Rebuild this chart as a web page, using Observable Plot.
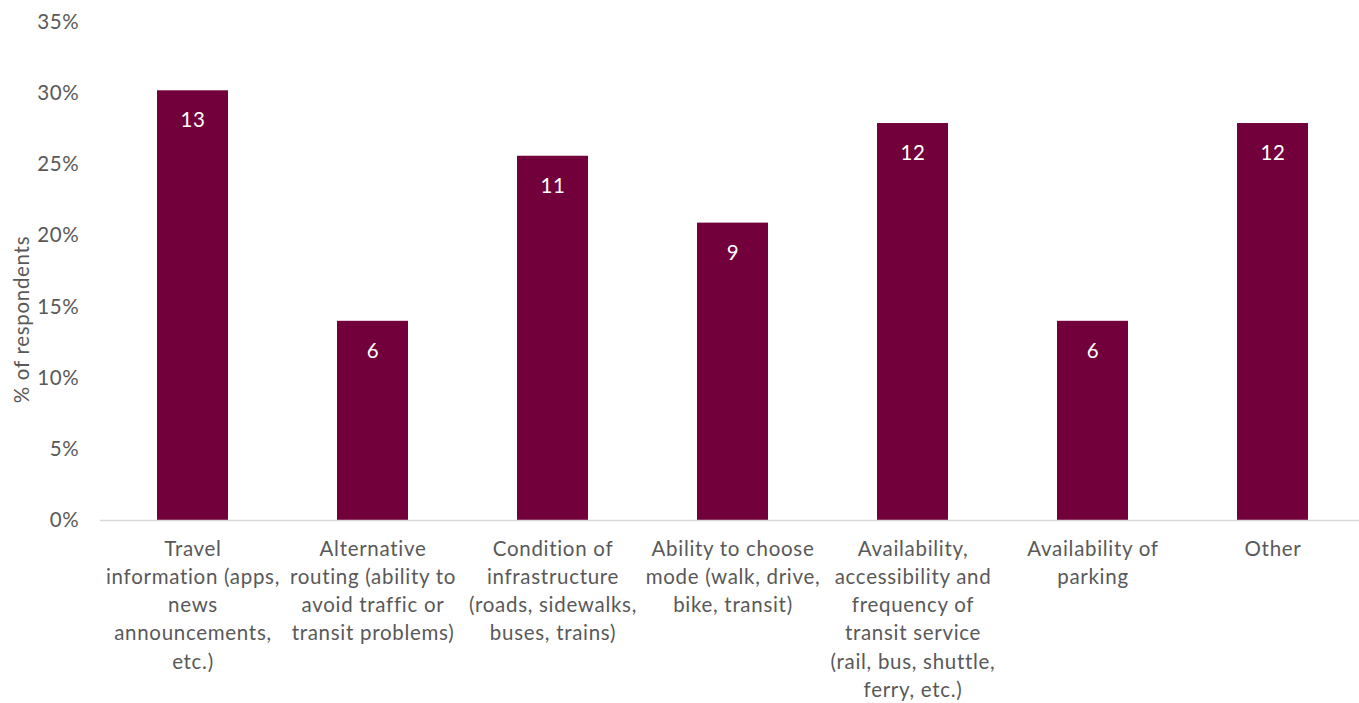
<!DOCTYPE html>
<html>
<head>
<meta charset="utf-8">
<script src="https://cdn.jsdelivr.net/npm/d3@7"></script>
<script src="https://cdn.jsdelivr.net/npm/@observablehq/plot@0.6"></script>
<style>
  html, body { margin: 0; padding: 0; background: #fff; overflow: hidden; }
  #chart { width: 1359px; overflow: hidden; }
  #chart svg { display: block; max-width: none; }
</style>
</head>
<body>
<div id="chart"></div>
<script>
const categories = [
  "Travel\ninformation (apps,\nnews\nannouncements,\netc.)",
  "Alternative\nrouting (ability to\navoid traffic or\ntransit problems)",
  "Condition of\ninfrastructure\n(roads, sidewalks,\nbuses, trains)",
  "Ability to choose\nmode (walk, drive,\nbike, transit)",
  "Availability,\naccessibility and\nfrequency of\ntransit service\n(rail, bus, shuttle,\nferry, etc.)",
  "Availability of\nparking",
  "Other"
];
const percentValues = [30.2, 14.0, 25.6, 20.9, 27.9, 14.0, 27.9];
const counts = [13, 6, 11, 9, 12, 6, 12];
const yTicks = [0, 5, 10, 15, 20, 25, 30, 35];

const data = categories.map((c, i) => ({category: c, value: percentValues[i], count: counts[i]}));

const textColor = "#595959";
const barColor = "#72003a";

const chart = Plot.plot({
  width: 1366,
  height: 703,
  marginLeft: 100,
  marginRight: 0,
  marginTop: 22,
  marginBottom: 183,
  style: {fontFamily: "Lato, 'Open Sans', sans-serif", fontSize: "20.5px", color: textColor, background: "#fff", letterSpacing: "0.7px"},
  x: {domain: categories, paddingInner: 0.605, paddingOuter: 0.3025, label: null},
  y: {domain: [0, 35], label: null},
  marks: [
    Plot.barY(data, {x: "category", y: "value", fill: barColor}),
    Plot.ruleY([0], {stroke: "#d9d9d9", strokeWidth: 1.5}),
    Plot.text(data, {x: "category", y: "value", text: d => String(d.count), dy: 30, fill: "#fff", fontSize: 20.5}),
    Plot.axisY({ticks: yTicks, tickFormat: d => d + "%", tickSize: 0, tickPadding: 21, fontSize: 20.5, fill: textColor, label: null}),
    Plot.axisX({tickSize: 0, tickPadding: 15, fontSize: 20.5, lineHeight: 1.38, fill: textColor, label: null}),
    Plot.text(["% of respondents"], {frameAnchor: "left", textAnchor: "middle", rotate: -90, dx: -78, dy: 48, fill: textColor, fontSize: 20.5})
  ]
});
document.getElementById("chart").append(chart);
</script>
</body>
</html>
